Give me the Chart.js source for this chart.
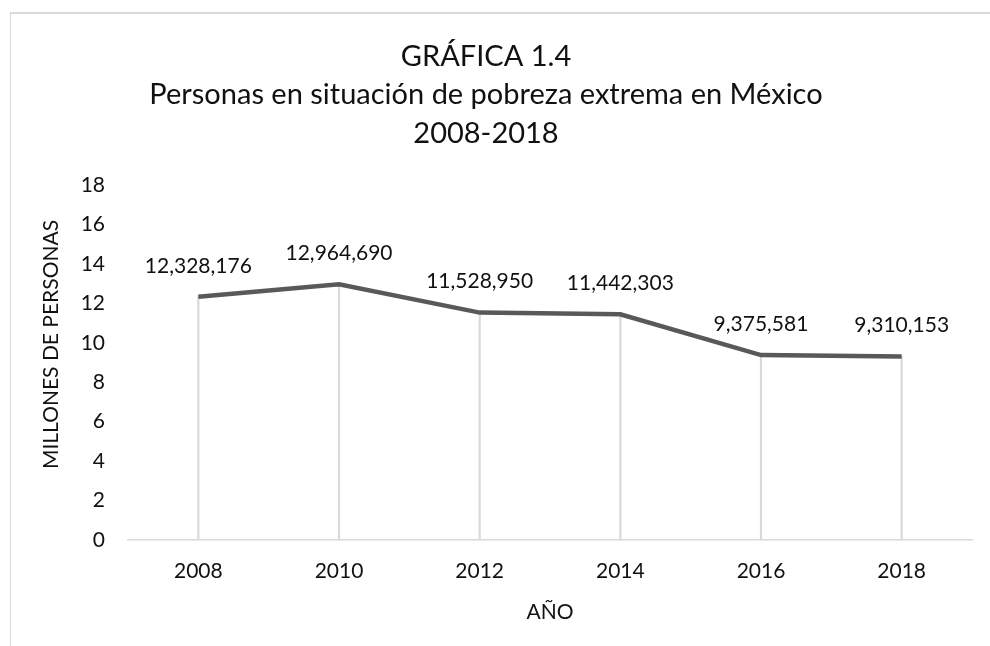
<!DOCTYPE html>
<html lang="es">
<head>
<meta charset="utf-8">
<title>Personas en situación de pobreza extrema en México 2008-2018</title>
<script src="https://cdn.jsdelivr.net/npm/chart.js@4.4.1/dist/chart.umd.min.js"></script>
<style>
  html, body { margin: 0; padding: 0; background: #ffffff; overflow: hidden; }
  #frame {
    position: absolute; left: 10px; top: 12px; width: 2000px; height: 2000px;
    border-left: 1px solid #d9d9d9; border-top: 2px solid #d9d9d9;
  }
  #wrap { position: absolute; left: 0; top: 0; width: 990px; height: 646px; }
</style>
</head>
<body>
<div id="frame"></div>
<div id="wrap"><canvas id="chart" width="990" height="646"></canvas></div>
<script>
// Años del periodo
const anios = ['2008', '2010', '2012', '2014', '2016', '2018'];
// Personas en situación de pobreza extrema
const personas = [12328176, 12964690, 11528950, 11442303, 9375581, 9310153];
// Escala del eje vertical (millones de personas)
const ejeMin = 0;
const ejeMax = 18;
const ejePaso = 2;
const tituloGrafica = ['GRÁFICA 1.4', 'Personas en situación de pobreza extrema en México', '2008-2018'];
const tituloY = 'MILLONES DE PERSONAS';
const tituloX = 'AÑO';

const millones = personas.map(v => v / 1e6);
const FONT = 'Lato, "Open Sans", sans-serif';
const TEXT = '#111111';

// Etiquetas con el número de personas sobre cada punto de la línea
const etiquetasValor = {
  id: 'etiquetasValor',
  afterDatasetsDraw(chart) {
    const meta = chart.getDatasetMeta(1);
    const ctx = chart.ctx;
    ctx.save();
    ctx.font = '21px ' + FONT;
    ctx.fillStyle = TEXT;
    ctx.textAlign = 'center';
    ctx.textBaseline = 'middle';
    meta.data.forEach((pt, i) => {
      ctx.fillText(personas[i].toLocaleString('en-US'), pt.x, pt.y - 31);
    });
    ctx.restore();
  }
};

// Título vertical del eje Y, algo por encima del centro del área de trazado
const tituloEjeY = {
  id: 'tituloEjeY',
  afterDraw(chart) {
    const area = chart.chartArea;
    const ctx = chart.ctx;
    ctx.save();
    ctx.translate(chart.scales.y.left + 51, (area.top + area.bottom) / 2 - 18);
    ctx.rotate(-Math.PI / 2);
    ctx.font = '21px ' + FONT;
    ctx.fillStyle = TEXT;
    ctx.textAlign = 'center';
    ctx.textBaseline = 'middle';
    ctx.fillText(tituloY, 0, 0);
    ctx.restore();
  }
};

new Chart(document.getElementById('chart'), {
  data: {
    labels: anios,
    datasets: [
      {
        // líneas verticales desde cada punto hasta el eje
        type: 'bar',
        data: millones,
        backgroundColor: '#d9d9d9',
        barThickness: 1.5,
        order: 2
      },
      {
        type: 'line',
        data: millones,
        borderColor: '#595959',
        borderWidth: 4.5,
        pointRadius: 0,
        tension: 0,
        fill: false,
        order: 1
      }
    ]
  },
  options: {
    responsive: false,
    animation: false,
    layout: { padding: { left: 0, right: 18, top: 0, bottom: 0 } },
    plugins: {
      legend: { display: false },
      tooltip: { enabled: false },
      title: {
        display: true,
        text: tituloGrafica,
        color: TEXT,
        font: { family: FONT, size: 29, weight: 'normal', lineHeight: '38.5px' },
        padding: { top: 37, bottom: 32.5 }
      }
    },
    scales: {
      x: {
        type: 'category',
        offset: true,
        grid: { display: false, drawTicks: false },
        border: { display: true, color: '#d9d9d9', width: 1.5 },
        ticks: { color: TEXT, font: { family: FONT, size: 21 }, padding: 19, maxRotation: 0 },
        title: {
          display: true, text: tituloX, color: TEXT,
          font: { family: FONT, size: 21 }, padding: { top: 0, bottom: 21 }
        },
        afterFit(scale) { scale.height = 106; }
      },
      y: {
        min: ejeMin,
        max: ejeMax,
        grid: { display: false, drawTicks: false },
        border: { display: false },
        ticks: { stepSize: ejePaso, color: TEXT, font: { family: FONT, size: 21 }, padding: 23 },
        afterFit(scale) { scale.width = 128; }
      }
    }
  },
  plugins: [etiquetasValor, tituloEjeY]
});
</script>
</body>
</html>
